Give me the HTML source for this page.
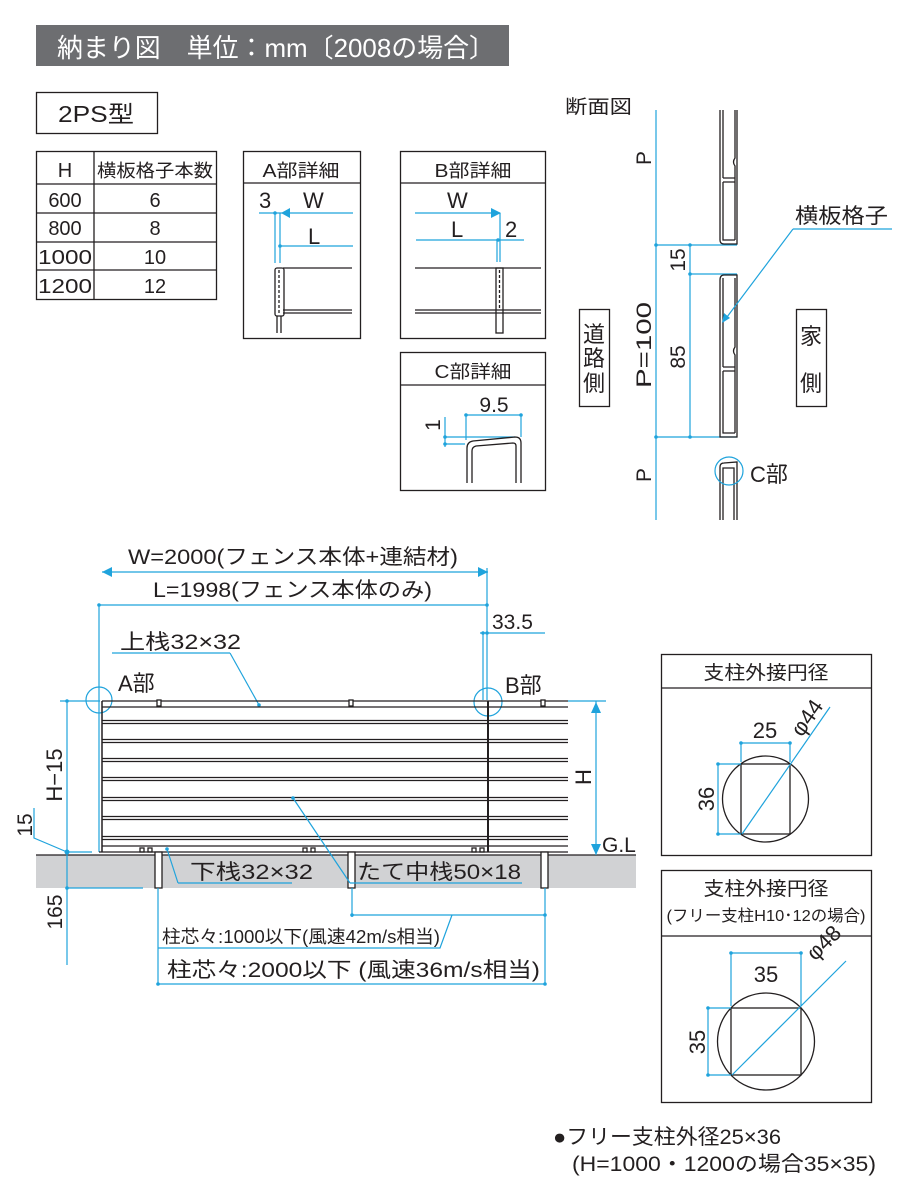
<!DOCTYPE html>
<html><head><meta charset="utf-8"><style>
body{margin:0;background:#fff}
svg{display:block}
text{font-family:"Liberation Sans","Noto Sans CJK JP",sans-serif;fill:#231f20}
.b{stroke:#1fa3dc;fill:none;stroke-width:1.2}
.k{stroke:#231f20;fill:none;stroke-width:1.3}
.d{fill:#1fa3dc}
</style></head><body>
<svg width="900" height="1200" viewBox="0 0 900 1200" xmlns="http://www.w3.org/2000/svg">
<!-- header -->
<rect x="36" y="25" width="473" height="41" fill="#6d6e71"/>
<text x="57" y="57" font-size="26" textLength="438" lengthAdjust="spacingAndGlyphs" style="fill:#fff">納まり図　単位：mm〔2008の場合〕</text>
<rect x="36.5" y="92.5" width="121" height="41" class="k"/>
<text x="58" y="122" font-size="23" textLength="76" lengthAdjust="spacingAndGlyphs">2PS型</text>
<!-- table -->
<g class="k"><rect x="36.5" y="151.5" width="180" height="148"/>
<line x1="94" y1="151" x2="94" y2="299"/>
<line x1="36" y1="184" x2="216" y2="184"/><line x1="36" y1="213" x2="216" y2="213"/>
<line x1="36" y1="242" x2="216" y2="242"/><line x1="36" y1="270" x2="216" y2="270"/></g>
<g font-size="20" text-anchor="middle">
<text x="65" y="177">H</text><text x="155" y="177" font-size="18" textLength="116" lengthAdjust="spacingAndGlyphs">横板格子本数</text>
<text x="65" y="207">600</text><text x="155" y="207">6</text>
<text x="65" y="235">800</text><text x="155" y="235">8</text>
<text x="65" y="264" textLength="54" lengthAdjust="spacingAndGlyphs">1000</text><text x="155" y="264">10</text>
<text x="65" y="293" textLength="54" lengthAdjust="spacingAndGlyphs">1200</text><text x="155" y="293">12</text></g>
<!-- A detail -->
<rect x="243.5" y="151.5" width="117" height="187" class="k"/>
<line x1="243" y1="183" x2="360" y2="183" class="k"/>
<text x="301" y="177" font-size="18" text-anchor="middle" textLength="77" lengthAdjust="spacingAndGlyphs">A部詳細</text>
<text x="259" y="208" font-size="22">3</text><text x="303" y="208" font-size="22">W</text>
<text x="308" y="244" font-size="22">L</text>
<line x1="259" y1="213" x2="353" y2="213" class="b"/><polygon points="281,213 290,208 290,218" class="d"/>
<line x1="280" y1="246" x2="353" y2="246" class="b"/>
<line x1="275" y1="213" x2="275" y2="263" class="b"/><line x1="280" y1="213" x2="280" y2="263" class="b"/>
<circle cx="275" cy="213" r="1.8" class="d"/><circle cx="280" cy="246" r="1.8" class="d"/>
<g class="k" stroke-width="1.1">
<line x1="283" y1="268" x2="352" y2="268"/><rect x="275" y="268" width="9" height="48" rx="2"/>
<line x1="279" y1="270" x2="279" y2="314" stroke-dasharray="3,2"/>
<line x1="283" y1="310" x2="352" y2="310"/><line x1="283" y1="313" x2="352" y2="313"/>
<line x1="277" y1="316" x2="277" y2="333"/><line x1="281" y1="316" x2="281" y2="333"/></g>
<!-- B detail -->
<rect x="400.5" y="151.5" width="145" height="187" class="k"/>
<line x1="400" y1="183" x2="545" y2="183" class="k"/>
<text x="473" y="177" font-size="18" text-anchor="middle" textLength="77" lengthAdjust="spacingAndGlyphs">B部詳細</text>
<text x="447" y="208" font-size="22">W</text><text x="451" y="237" font-size="22">L</text><text x="505" y="237" font-size="22">2</text>
<line x1="415" y1="213" x2="500" y2="213" class="b"/><polygon points="501,213 491,208 491,218" class="d"/>
<line x1="416" y1="240" x2="524" y2="240" class="b"/>
<line x1="500" y1="213" x2="500" y2="262" class="b"/><line x1="497" y1="240" x2="497" y2="262" class="b"/>
<circle cx="498" cy="240" r="1.8" class="d"/>
<g class="k" stroke-width="1.1">
<line x1="415" y1="268" x2="541" y2="268"/><rect x="496" y="268" width="7" height="65"/>
<line x1="499.5" y1="270" x2="499.5" y2="310" stroke-dasharray="3,2"/>
<line x1="415" y1="310" x2="541" y2="310"/><line x1="415" y1="313" x2="541" y2="313"/></g>
<!-- C detail -->
<rect x="400.5" y="352.5" width="145" height="138" class="k"/>
<line x1="400" y1="385" x2="545" y2="385" class="k"/>
<text x="473" y="378" font-size="18" text-anchor="middle" textLength="77" lengthAdjust="spacingAndGlyphs">C部詳細</text>
<text x="494" y="412" font-size="21" text-anchor="middle">9.5</text>
<text x="0" y="0" font-size="21" transform="translate(440,425) rotate(-90)" text-anchor="middle">1</text>
<line x1="466" y1="415" x2="521" y2="415" class="b"/><line x1="466" y1="415" x2="466" y2="440" class="b"/><line x1="521" y1="415" x2="521" y2="437" class="b"/>
<circle cx="466" cy="415" r="1.8" class="d"/><circle cx="521" cy="415" r="1.8" class="d"/>
<line x1="445" y1="417" x2="445" y2="447" class="b"/><line x1="445" y1="437" x2="515" y2="437" class="b"/><line x1="445" y1="444" x2="465" y2="444" class="b"/>
<circle cx="445" cy="437" r="1.8" class="d"/><circle cx="445" cy="444" r="1.8" class="d"/>
<path d="M467,483 V448 Q467,442 473,441 L515,437 Q521,437 521,443 V483" class="k"/>
<path d="M472,483 V451 Q472,447 476,446 L513,443 Q516,443 516,446 V483" class="k" stroke-width="1"/>
<!-- section -->
<text x="565" y="113" font-size="19" textLength="67" lengthAdjust="spacingAndGlyphs">断面図</text>
<line x1="656" y1="110" x2="656" y2="520" class="b"/>
<g font-size="21" text-anchor="middle">
<text transform="translate(651,158) rotate(-90)">P</text>
<text transform="translate(651,475) rotate(-90)">P</text>
<text transform="translate(651,345) rotate(-90)" textLength="86" lengthAdjust="spacingAndGlyphs">P=100</text>
<text transform="translate(685,260) rotate(-90)">15</text>
<text transform="translate(685,357) rotate(-90)">85</text></g>
<line x1="656" y1="245" x2="737" y2="245" class="b"/><line x1="656" y1="437" x2="737" y2="437" class="b"/>
<line x1="690" y1="274" x2="737" y2="274" class="b"/><line x1="690" y1="245" x2="690" y2="437" class="b"/>
<g class="d"><circle cx="656" cy="245" r="1.8"/><circle cx="656" cy="437" r="1.8"/><circle cx="690" cy="245" r="1.8"/><circle cx="690" cy="274" r="1.8"/><circle cx="690" cy="437" r="1.8"/></g>
<g class="k" stroke-width="1.1">
<path d="M720,110 V240 Q720,244 724,244 L737,244 V110"/><path d="M723,110 V178 M735,110 V158 Q732,162 735,166 V240 M723,178 H735 M723,182 H735 M723,182 V240 H735"/>
<path d="M720,437 V280 Q720,275 724,275 L737,275 V437 Z"/><path d="M723,278 V367 M735,278 V347 Q732,351 735,355 V433 M723,367 H735 M723,371 H735 M723,371 V433 H735"/>
<path d="M720,520 V467 Q720,463 724,463 L737,462 V520"/><path d="M723,520 V468 H734 V520"/></g>
<text x="795" y="223" font-size="21" textLength="93" lengthAdjust="spacingAndGlyphs">横板格子</text>
<line x1="793" y1="229" x2="892" y2="229" class="b"/><line x1="793" y1="229" x2="724" y2="321" class="b"/>
<polygon points="722,323 724,313 730,318" class="d"/>
<rect x="579.5" y="309.5" width="30" height="97" class="k"/>
<text x="594" y="342" font-size="22" text-anchor="middle">道</text><text x="594" y="366" font-size="22" text-anchor="middle">路</text><text x="594" y="391" font-size="22" text-anchor="middle">側</text>
<rect x="796.5" y="309.5" width="30" height="97" class="k"/>
<text x="811" y="344" font-size="22" text-anchor="middle">家</text><text x="811" y="391" font-size="22" text-anchor="middle">側</text>
<circle cx="729" cy="471" r="14" class="b"/>
<text x="750" y="482" font-size="22">C部</text>
<!-- main fence dims -->
<text x="128" y="564" font-size="21" textLength="330" lengthAdjust="spacingAndGlyphs">W=2000(フェンス本体+連結材)</text>
<line x1="102" y1="572" x2="488" y2="572" class="b"/>
<polygon points="102,572 112,567 112,577" class="d"/><polygon points="488,572 478,567 478,577" class="d"/>
<text x="153" y="597" font-size="21" textLength="279" lengthAdjust="spacingAndGlyphs">L=1998(フェンス本体のみ)</text>
<line x1="99" y1="605" x2="487" y2="605" class="b"/>
<circle cx="99" cy="605" r="1.8" class="d"/><circle cx="487" cy="605" r="1.8" class="d"/>
<line x1="99" y1="605" x2="99" y2="852" class="b"/><line x1="487" y1="568" x2="487" y2="700" class="b"/>
<line x1="483" y1="633" x2="483" y2="700" class="b"/>
<text x="492" y="629" font-size="21">33.5</text>
<line x1="480" y1="633" x2="545" y2="633" class="b"/><circle cx="483" cy="633" r="1.8" class="d"/><circle cx="487" cy="633" r="1.8" class="d"/>
<text x="120" y="649" font-size="21" textLength="121" lengthAdjust="spacingAndGlyphs">上栈32×32</text>
<line x1="112" y1="653" x2="230" y2="653" class="b"/><line x1="230" y1="653" x2="259" y2="705" class="b"/><circle cx="259" cy="705" r="1.8" class="d"/>
<text x="118" y="691" font-size="22">A部</text><circle cx="99" cy="700" r="13" class="b"/>
<text x="505" y="693" font-size="22">B部</text><circle cx="488" cy="702" r="14" class="b"/>
<!-- ground -->
<rect x="36" y="855" width="600" height="33" fill="#d1d2d4"/>
<line x1="36" y1="855" x2="636" y2="855" class="k"/>
<!-- fence -->
<g class="k" stroke-width="1">
<line x1="102" y1="701" x2="102" y2="852" stroke-width="1.5"/>
<line x1="102" y1="701" x2="568" y2="701"/><line x1="102" y1="707" x2="568" y2="707"/>
<line x1="102" y1="720.5" x2="568" y2="720.5"/><line x1="102" y1="723.5" x2="568" y2="723.5"/>
<line x1="102" y1="739.5" x2="568" y2="739.5"/><line x1="102" y1="742.5" x2="568" y2="742.5"/>
<line x1="102" y1="758.5" x2="568" y2="758.5"/><line x1="102" y1="761.5" x2="568" y2="761.5"/>
<line x1="102" y1="777.5" x2="568" y2="777.5"/><line x1="102" y1="780.5" x2="568" y2="780.5"/>
<line x1="102" y1="797.5" x2="568" y2="797.5"/><line x1="102" y1="800.5" x2="568" y2="800.5"/>
<line x1="102" y1="816.5" x2="568" y2="816.5"/><line x1="102" y1="819.5" x2="568" y2="819.5"/>
<line x1="102" y1="836.5" x2="568" y2="836.5"/><line x1="102" y1="839.5" x2="568" y2="839.5"/>
<line x1="102" y1="846" x2="568" y2="846"/><line x1="99" y1="852" x2="568" y2="852" stroke-width="1.3"/>
<line x1="488" y1="701" x2="488" y2="852" stroke-width="2"/>
<rect x="157" y="700" width="4" height="6" fill="#fff"/><rect x="349" y="700" width="4" height="6" fill="#fff"/><rect x="541" y="700" width="4" height="6" fill="#fff"/>
<rect x="155" y="852" width="7" height="36" fill="#fff"/><rect x="348" y="852" width="7" height="36" fill="#fff"/><rect x="541" y="852" width="7" height="36" fill="#fff"/>
<rect x="140" y="848" width="4" height="4"/><rect x="148" y="848" width="4" height="4"/>
<rect x="303" y="848" width="4" height="4"/><rect x="311" y="848" width="4" height="4"/>
<rect x="472" y="848" width="4" height="4"/><rect x="480" y="848" width="4" height="4"/>
</g>
<line x1="568" y1="701" x2="606" y2="701" class="b"/>
<line x1="596" y1="701" x2="596" y2="855" class="b"/>
<polygon points="596,702 591,713 601,713" class="d"/><polygon points="596,855 591,844 601,844" class="d"/>
<text transform="translate(591,777) rotate(-90)" font-size="22" text-anchor="middle">H</text>
<text x="602" y="852" font-size="21">G.L</text>
<line x1="60" y1="701" x2="100" y2="701" class="b"/>
<line x1="67" y1="701" x2="67" y2="965" class="b"/>
<circle cx="67" cy="701" r="1.8" class="d"/><circle cx="67" cy="852" r="2.5" class="d"/><circle cx="67" cy="888" r="1.8" class="d"/>
<line x1="67" y1="852" x2="92" y2="852" class="b"/><line x1="67" y1="888" x2="143" y2="888" class="b"/>
<polyline points="34,808 34,838 67,852" class="b"/>
<text transform="translate(62,775) rotate(-90)" font-size="22" text-anchor="middle">H−15</text>
<text transform="translate(32,825) rotate(-90)" font-size="21" text-anchor="middle">15</text>
<text transform="translate(62,912) rotate(-90)" font-size="21" text-anchor="middle">165</text>
<text x="190" y="879" font-size="21" textLength="123" lengthAdjust="spacingAndGlyphs">下栈32×32</text>
<line x1="178" y1="883" x2="292" y2="883" class="b"/><line x1="167" y1="849" x2="178" y2="883" class="b"/><circle cx="167" cy="849" r="1.8" class="d"/>
<text x="357" y="879" font-size="21" textLength="164" lengthAdjust="spacingAndGlyphs">たて中栈50×18</text>
<line x1="350" y1="883" x2="522" y2="883" class="b"/><line x1="293" y1="798" x2="350" y2="883" class="b"/><circle cx="293" cy="798" r="1.8" class="d"/>
<!-- bottom dims -->
<line x1="158" y1="888" x2="158" y2="985" class="b"/><line x1="352" y1="888" x2="352" y2="917" class="b"/><line x1="545" y1="888" x2="545" y2="985" class="b"/>
<line x1="352" y1="915" x2="545" y2="915" class="b"/><circle cx="352" cy="915" r="1.8" class="d"/><circle cx="545" cy="915" r="1.8" class="d"/>
<text x="162" y="943" font-size="18" textLength="278" lengthAdjust="spacingAndGlyphs">柱芯々:1000以下(風速42m/s相当)</text>
<polyline points="158,948 440,948 452,915" class="b"/>
<text x="167" y="977" font-size="21" textLength="373" lengthAdjust="spacingAndGlyphs">柱芯々:2000以下 (風速36m/s相当)</text>
<line x1="158" y1="984" x2="545" y2="984" class="b"/><circle cx="158" cy="984" r="1.8" class="d"/><circle cx="545" cy="984" r="1.8" class="d"/>
<!-- circle box 1 -->
<rect x="661.5" y="654.5" width="210" height="201" class="k"/><line x1="661" y1="688" x2="871" y2="688" class="k"/>
<text x="766" y="679" font-size="19" text-anchor="middle" textLength="125" lengthAdjust="spacingAndGlyphs">支柱外接円径</text>
<circle cx="765.5" cy="799" r="43" class="k" stroke-width="1"/>
<rect x="741" y="764" width="49" height="70" class="k" stroke-width="1.1"/>
<line x1="741" y1="743" x2="790" y2="743" class="b"/><line x1="741" y1="743" x2="741" y2="762" class="b"/><line x1="790" y1="743" x2="790" y2="762" class="b"/>
<circle cx="741" cy="743" r="1.8" class="d"/><circle cx="790" cy="743" r="1.8" class="d"/>
<text x="765" y="738" font-size="22" text-anchor="middle">25</text>
<line x1="718" y1="764" x2="741" y2="764" class="b"/><line x1="718" y1="834" x2="741" y2="834" class="b"/><line x1="718" y1="764" x2="718" y2="834" class="b"/>
<circle cx="718" cy="764" r="1.8" class="d"/><circle cx="718" cy="834" r="1.8" class="d"/>
<text transform="translate(714,799) rotate(-90)" font-size="22" text-anchor="middle">36</text>
<line x1="742" y1="834" x2="830" y2="707" class="b"/>
<text transform="translate(813,722) rotate(-55)" font-size="22" text-anchor="middle">φ44</text>
<!-- circle box 2 -->
<rect x="661.5" y="870.5" width="210" height="232" class="k"/><line x1="661" y1="936" x2="871" y2="936" class="k"/>
<text x="766" y="895" font-size="19" text-anchor="middle" textLength="125" lengthAdjust="spacingAndGlyphs">支柱外接円径</text>
<text x="766" y="921" font-size="16" text-anchor="middle" textLength="199" lengthAdjust="spacingAndGlyphs">(フリー支柱H10･12の場合)</text>
<circle cx="766" cy="1041.5" r="48.5" class="k" stroke-width="1"/>
<rect x="731" y="1008" width="70" height="67" class="k" stroke-width="1.1"/>
<line x1="731" y1="953" x2="801" y2="953" class="b"/><line x1="731" y1="953" x2="731" y2="1006" class="b"/><line x1="801" y1="953" x2="801" y2="1006" class="b"/>
<circle cx="731" cy="953" r="1.8" class="d"/><circle cx="801" cy="953" r="1.8" class="d"/>
<text x="766" y="982" font-size="22" text-anchor="middle">35</text>
<line x1="708" y1="1008" x2="731" y2="1008" class="b"/><line x1="708" y1="1075" x2="731" y2="1075" class="b"/><line x1="708" y1="1008" x2="708" y2="1075" class="b"/>
<circle cx="708" cy="1008" r="1.8" class="d"/><circle cx="708" cy="1075" r="1.8" class="d"/>
<text transform="translate(705,1042) rotate(-90)" font-size="22" text-anchor="middle">35</text>
<line x1="732" y1="1075" x2="846" y2="961" class="b"/>
<text transform="translate(829,948) rotate(-45)" font-size="22" text-anchor="middle">φ48</text>
<!-- footnote -->
<text x="553" y="1144" font-size="21" textLength="228" lengthAdjust="spacingAndGlyphs">●フリー支柱外径25×36</text>
<text x="572" y="1171" font-size="21" textLength="304" lengthAdjust="spacingAndGlyphs">(H=1000・1200の場合35×35)</text>
</svg>
</body></html>
